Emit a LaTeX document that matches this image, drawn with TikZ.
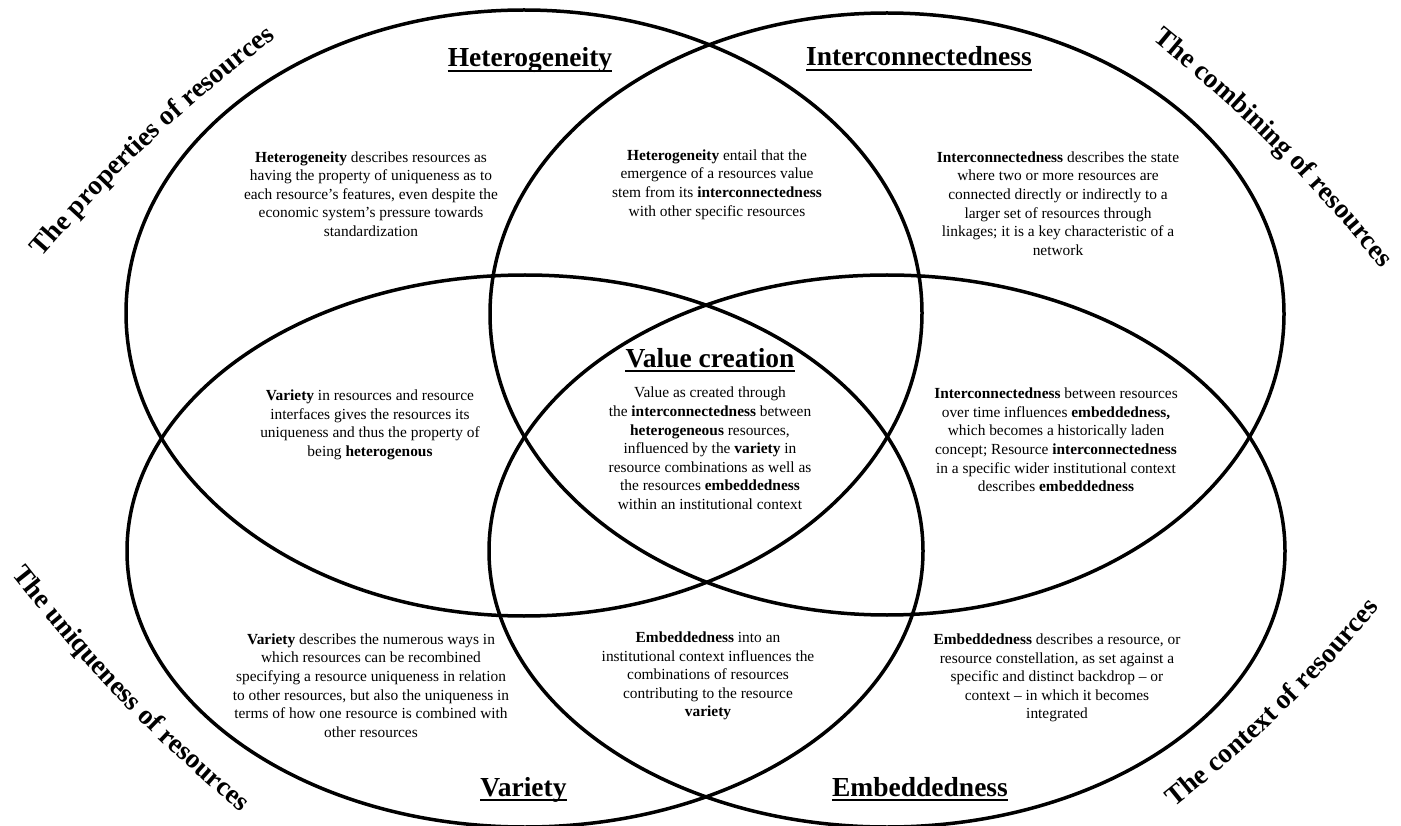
\documentclass[tikz,border=0pt]{standalone}
\usepackage{fontspec}
\setmainfont{Liberation Serif}
\usetikzlibrary{decorations.text}
\newcommand\lblfont{\fontsize{27.5}{27.5}\selectfont\bfseries}
\begin{document}
\begin{tikzpicture}[x=1pt,y=1pt,
  ell/.style={line width=3.5pt},
  body/.style={align=center, inner sep=0pt, font=\fontsize{15.4}{18.6}\selectfont},
  ttl/.style={anchor=base, inner sep=0pt, font=\fontsize{27.5}{30}\selectfont\bfseries},
  uline/.style={line width=2.8pt},
  lbl/.style={decorate, decoration={text along path, text align=center, text={#1}}}
]
\useasboundingbox (0,0) rectangle (1401,-826);
\clip (0,0) rectangle (1401,-826);
\fill[white] (0,0) rectangle (1401,-826);

% ellipses
\draw[ell] (524,-313) ellipse [x radius=398pt, y radius=303pt];
\draw[ell] (887,-314) ellipse [x radius=397pt, y radius=301pt];
\draw[ell] (525,-551) ellipse [x radius=398pt, y radius=276pt];
\draw[ell] (887,-551) ellipse [x radius=398pt, y radius=276pt];

% titles
\node[ttl] (het) at (530,-67) {Heterogeneity};
\node[ttl] (inter) at (919,-66) {Interconnectedness};
\node[ttl] (val) at (710,-367) {Value creation};
\node[ttl] (var) at (523.5,-796) {Variety};
\node[ttl] (emb) at (920,-796) {Embeddedness};
\foreach \n in {het,inter,val,var,emb}
  \draw[uline] ([yshift=-4pt]\n.base west) -- ([yshift=-4pt]\n.base east);

% body texts
\node[body] (t1) at (371,-194) {\textbf{Heterogeneity} describes resources as\\having the property of uniqueness as to\\each resource’s features, even despite the\\economic system’s pressure towards\\standardization};
\node[body] (t2) at (717,-184.5) {\textbf{Heterogeneity} entail that the\\emergence of a resources value\\stem from its \textbf{interconnectedness}\\with other specific resources};
\node[body] (t3) at (1058,-203.5) {\textbf{Interconnectedness} describes the state\\where two or more resources are\\connected directly or indirectly to a\\larger set of resources through\\linkages; it is a key characteristic of a\\network};
\node[body] (t4) at (370,-425) {\textbf{Variety} in resources and resource\\interfaces gives the resources its\\uniqueness and thus the property of\\being \textbf{heterogenous}};
\node[body] (t5) at (710,-448.5) {Value as created through\\the \textbf{interconnectedness} between\\\textbf{heterogeneous} resources,\\influenced by the \textbf{variety} in\\resource combinations as well as\\the resources \textbf{embeddedness}\\within an institutional context};
\node[body] (t6) at (1056,-440) {\textbf{Interconnectedness} between resources\\over time influences \textbf{embeddedness,}\\which becomes a historically laden\\concept; Resource \textbf{interconnectedness}\\in a specific wider institutional context\\describes \textbf{embeddedness}};
\node[body] (t7) at (371,-685.5) {\textbf{Variety} describes the numerous ways in\\which resources can be recombined\\specifying a resource uniqueness in relation\\to other resources, but also the uniqueness in\\terms of how one resource is combined with\\other resources};
\node[body] (t8) at (708,-676) {\textbf{Embeddedness} into an\\institutional context influences the\\combinations of resources\\contributing to the resource\\\textbf{variety}};
\node[body] (t9) at (1057,-678) {\textbf{Embeddedness} describes a resource, or\\resource constellation, as set against a\\specific and distinct backdrop – or\\context – in which it becomes\\integrated};

% outer curved labels
\coordinate (l1a) at (29.4,-271.7);
\coordinate (l1b) at (290.6,-26.3);
\path[lbl={|\lblfont|The properties of resources}] (l1a) to[bend left=6] (l1b);
\coordinate (l2a) at (1138.9,-28.9);
\coordinate (l2b) at (1392.1,-282.1);
\path[lbl={|\lblfont|The combining of resources}] (l2a) to[bend left=6] (l2b);
\coordinate (l3a) at (-0.9,-558.6);
\coordinate (l3b) at (255.9,-825.4);
\path[lbl={|\lblfont|The uniqueness of resources}] (l3a) to[bend right=6] (l3b);
\coordinate (l4a) at (1158.7,-820);
\coordinate (l4b) at (1392.3,-592);
\path[lbl={|\lblfont|The context of resources}] (l4a) to[bend right=6] (l4b);
\end{tikzpicture}
\end{document}
